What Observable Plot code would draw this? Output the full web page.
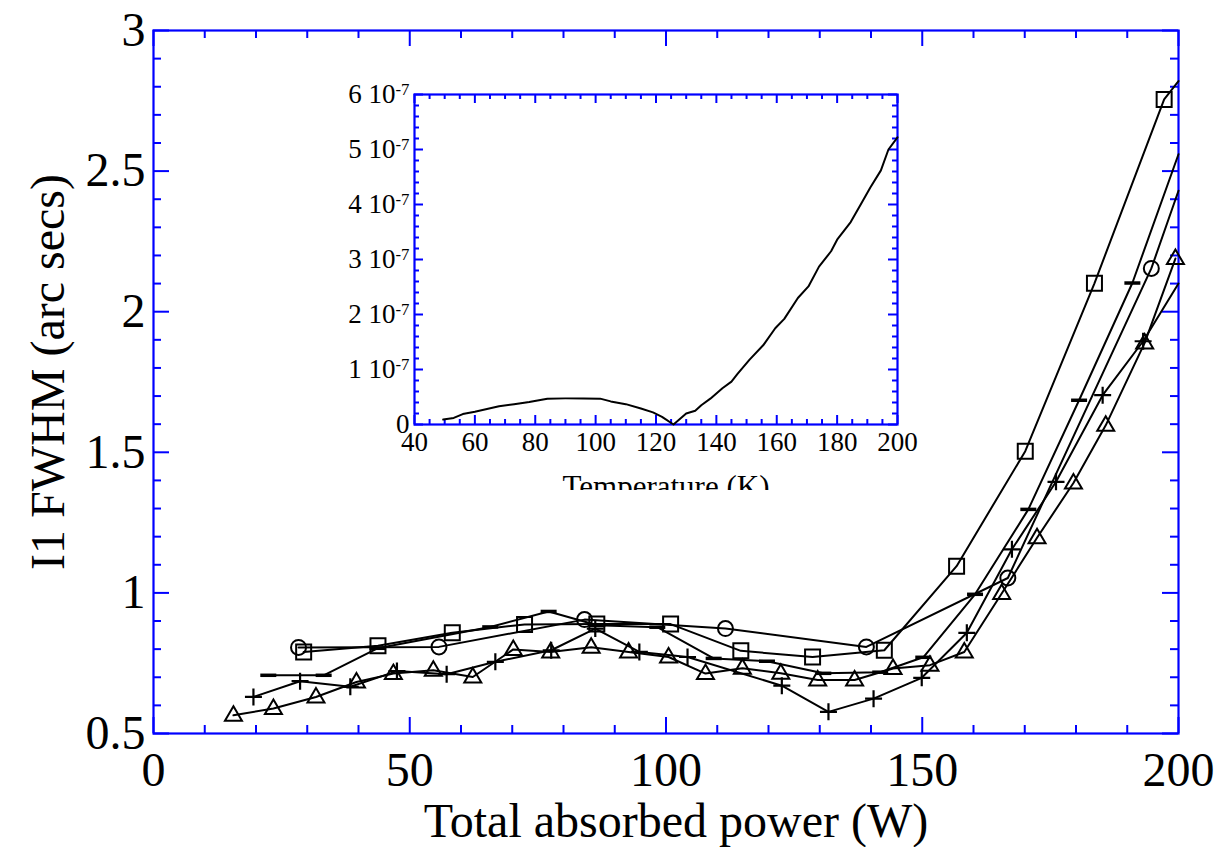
<!DOCTYPE html>
<html><head><meta charset="utf-8">
<script src="https://cdn.jsdelivr.net/npm/d3@7"></script>
<script src="https://cdn.jsdelivr.net/npm/@observablehq/plot@0.6"></script>
<style>
html,body{margin:0;padding:0;background:#fff;}
#wrap{position:relative;width:1219px;height:847px;overflow:hidden;background:#fff;}
#inset{position:absolute;left:320px;top:70px;width:600px;height:420px;overflow:hidden;}
#wrap svg, #wrap svg text, #wrap svg tspan { font-family: "Liberation Serif", "DejaVu Serif", serif !important; }
</style></head>
<body><div id="wrap"><div id="main"></div><div id="inset"></div></div>
<script>
// ---------- main chart data (Total absorbed power in W, I1 FWHM in arc secs) ----------
const powerSquare = [29.3, 43.8, 58.3, 72.4, 86.5, 100.9, 114.6, 128.6, 142.6, 156.7, 170.1, 183.6, 197.2];
const fwhmSquare  = [0.790, 0.812, 0.858, 0.888, 0.889, 0.889, 0.794, 0.772, 0.796, 1.095, 1.504, 2.101, 2.755];
const powerCircle = [28.3, 55.7, 84.1, 111.6, 139.1, 166.7, 194.7];
const fwhmCircle  = [0.806, 0.808, 0.905, 0.873, 0.808, 1.053, 2.154];
const powerDash = [22.4, 33.2, 43.7, 65.7, 77.1, 86.6, 98.3, 109.3, 119.7, 130.7, 141.8, 150.2, 160.3, 170.7, 180.6, 191.0];
const fwhmDash  = [0.707, 0.707, 0.803, 0.879, 0.934, 0.885, 0.878, 0.767, 0.757, 0.714, 0.718, 0.771, 0.995, 1.297, 1.685, 2.102];
const powerPlus = [19.5, 28.6, 38.4, 47.5, 57.2, 66.7, 77.6, 86.2, 94.8, 104.2, 122.6, 131.7, 140.5, 149.9, 158.7, 167.5, 176.1, 185.2, 193.1];
const fwhmPlus  = [0.630, 0.686, 0.666, 0.722, 0.711, 0.755, 0.796, 0.873, 0.790, 0.772, 0.670, 0.577, 0.624, 0.698, 0.858, 1.155, 1.395, 1.703, 1.895];
const powerTriangle = [15.6, 23.4, 31.7, 39.6, 46.8, 54.6, 62.3, 70.2, 77.5, 85.4, 92.7, 100.5, 107.7, 114.9, 122.4, 129.6, 136.8, 144.3, 151.5, 158.2, 165.5, 172.4, 179.5, 185.8, 193.4, 199.4];
const fwhmTriangle  = [0.565, 0.589, 0.630, 0.683, 0.713, 0.725, 0.701, 0.799, 0.790, 0.807, 0.790, 0.772, 0.713, 0.732, 0.714, 0.690, 0.690, 0.731, 0.743, 0.790, 0.998, 1.196, 1.391, 1.596, 1.889, 2.189];
// line continuation to the right edge (no marker)
const endPower = 200;
const endSquare = 2.82, endCircle = 2.43, endDash = 2.56, endPlus = 2.10;

// axis ticks
const xMajor = [0, 50, 100, 150, 200];
const xMinor = [10, 20, 30, 40, 60, 70, 80, 90, 110, 120, 130, 140, 160, 170, 180, 190];
const yMajor = [0.5, 1, 1.5, 2, 2.5, 3];
const yMinor = [0.6, 0.7, 0.8, 0.9, 1.1, 1.2, 1.3, 1.4, 1.6, 1.7, 1.8, 1.9, 2.1, 2.2, 2.3, 2.4, 2.6, 2.7, 2.8, 2.9];
const xTitle = "Total absorbed power (W)";
const yTitle = "I1 FWHM (arc secs)";

// ---------- inset data (Temperature in K, coefficient) ----------
const insetTemp = [49.5, 53, 56, 60, 64, 68, 73, 78, 84, 90, 96, 101.5, 105, 110, 115, 119, 122, 125.8,
  130, 133, 135, 138, 142, 145, 147, 151, 155.5, 159.5, 162.5, 167, 170.5, 174, 178, 180, 184.5, 188, 191, 194.5, 197, 200];
const insetValue = [0.9e-8, 1.2e-8, 1.9e-8, 2.3e-8, 2.8e-8, 3.3e-8, 3.7e-8, 4.1e-8, 4.7e-8, 4.75e-8, 4.75e-8, 4.7e-8, 4.2e-8, 3.7e-8, 2.9e-8, 2.2e-8, 1.4e-8, 0,
  2.0e-8, 2.5e-8, 3.5e-8, 4.7e-8, 6.6e-8, 7.8e-8, 9.2e-8, 1.18e-7, 1.44e-7, 1.75e-7, 1.92e-7, 2.30e-7, 2.51e-7, 2.87e-7, 3.15e-7, 3.36e-7, 3.68e-7, 4.02e-7, 4.31e-7, 4.62e-7, 5.0e-7, 5.22e-7];
const insetXMajor = [40, 60, 80, 100, 120, 140, 160, 180, 200];
const insetYMajor = [0, 1e-7, 2e-7, 3e-7, 4e-7, 5e-7, 6e-7];
const insetXTitle = "Temperature (K)";

// ---------- styling ----------
const BLUE = "#0000ff";
const FONT = "Liberation Serif, DejaVu Serif, serif";

const symSquare = {draw(c){ const s = 7.5; c.moveTo(-s,-s); c.lineTo(s,-s); c.lineTo(s,s); c.lineTo(-s,s); c.closePath(); }};
const symCircle = {draw(c){ const r = 7.5; c.moveTo(r,0); c.arc(0,0,r,0,2*Math.PI); c.closePath(); }};
const symTriangle = {draw(c){ c.moveTo(0,-9); c.lineTo(8.5,5.5); c.lineTo(-8.5,5.5); c.closePath(); }};
const symPlus = {draw(c){ const a = 8.5; c.moveTo(-a,0); c.lineTo(a,0); c.moveTo(0,-a); c.lineTo(0,a); }};
const symDash = {draw(c){ const a = 8; c.moveTo(-a,0); c.lineTo(a,0); }};

function rows(xs, ys, end) {
  const r = xs.map((x, i) => ({x, y: ys[i], marker: true}));
  if (end != null) r.push({x: endPower, y: end, marker: false});
  return r;
}
const series = [
  {data: rows(powerSquare, fwhmSquare, endSquare), symbol: symSquare, sw: 2},
  {data: rows(powerCircle, fwhmCircle, endCircle), symbol: symCircle, sw: 2},
  {data: rows(powerDash, fwhmDash, endDash), symbol: symDash, sw: 3.5},
  {data: rows(powerPlus, fwhmPlus, endPlus), symbol: symPlus, sw: 2.2},
  {data: rows(powerTriangle, fwhmTriangle, null), symbol: symTriangle, sw: 2}
];

const W = 1219, H = 847, mL = 153, mR = 41, mT = 30, mB = 114;
const PW = W - mL - mR, PH = H - mT - mB;

const dataMarks = [];
for (const s of series) {
  dataMarks.push(Plot.line(s.data, {x: "x", y: "y", stroke: "black", strokeWidth: 2}));
}
for (const s of series) {
  dataMarks.push(Plot.dot(s.data.filter(d => d.marker), {x: "x", y: "y", symbol: s.symbol, r: 6, fill: "none", stroke: "black", strokeWidth: s.sw}));
}

const main = Plot.plot({
  width: W, height: H,
  marginLeft: mL, marginRight: mR, marginTop: mT, marginBottom: mB,
  style: {fontFamily: FONT, background: "transparent", color: "black"},
  x: {domain: [0, 200]},
  y: {domain: [0.5, 3]},
  marks: [
    Plot.tickX(xMinor, {x: d => d, stroke: BLUE, strokeWidth: 2, insetTop: PH - 8}),
    Plot.tickX(xMinor, {x: d => d, stroke: BLUE, strokeWidth: 2, insetBottom: PH - 8}),
    Plot.tickX(xMajor, {x: d => d, stroke: BLUE, strokeWidth: 2, insetTop: PH - 16}),
    Plot.tickX(xMajor, {x: d => d, stroke: BLUE, strokeWidth: 2, insetBottom: PH - 16}),
    Plot.tickY(yMinor, {y: d => d, stroke: BLUE, strokeWidth: 2, insetRight: PW - 8}),
    Plot.tickY(yMinor, {y: d => d, stroke: BLUE, strokeWidth: 2, insetLeft: PW - 8}),
    Plot.tickY(yMajor, {y: d => d, stroke: BLUE, strokeWidth: 2, insetRight: PW - 16}),
    Plot.tickY(yMajor, {y: d => d, stroke: BLUE, strokeWidth: 2, insetLeft: PW - 16}),
    Plot.frame({stroke: BLUE, strokeWidth: 2.2}),
    Plot.axisX({ticks: xMajor, tickSize: 0, tickPadding: 18, fontSize: 48, fontFamily: FONT, label: null, tickFormat: d => String(d)}),
    Plot.axisY({ticks: yMajor, tickSize: 0, tickPadding: 8, fontSize: 48, fontFamily: FONT, label: null, tickFormat: d => String(d)}),
    Plot.text([xTitle], {text: d => d, frameAnchor: "bottom", dy: 88, dx: 10, fontSize: 48, fontFamily: FONT, lineAnchor: "middle", textAnchor: "middle"}),
    Plot.text([yTitle], {text: d => d, frameAnchor: "left", dx: -105, dy: -10, rotate: -90, fontSize: 48, fontFamily: FONT, lineAnchor: "middle", textAnchor: "middle"}),
    ...dataMarks
  ]
});
document.getElementById("main").appendChild(main);

// ---------- inset ----------
const IW = 600, IH = 420, imL = 94, imR = 23, imT = 24, imB = 66;
const IPW = IW - imL - imR, IPH = IH - imT - imB;
const insetXMinor = d3.range(45, 200, 5).filter(v => v % 20 !== 0);
const insetYMinor = d3.range(1, 30).map(i => i * 2e-8).filter((v, i) => (i + 1) % 5 !== 0);
const insetRows = insetTemp.map((t, i) => ({t, v: insetValue[i]}));

const inset = Plot.plot({
  width: IW, height: IH,
  marginLeft: imL, marginRight: imR, marginTop: imT, marginBottom: imB,
  style: {fontFamily: FONT, background: "transparent", color: "black", overflow: "hidden"},
  x: {domain: [40, 200]},
  y: {domain: [0, 6e-7]},
  marks: [
    Plot.tickX(insetXMinor, {x: d => d, stroke: BLUE, strokeWidth: 2, insetTop: IPH - 5}),
    Plot.tickX(insetXMinor, {x: d => d, stroke: BLUE, strokeWidth: 2, insetBottom: IPH - 5}),
    Plot.tickX(insetXMajor, {x: d => d, stroke: BLUE, strokeWidth: 2, insetTop: IPH - 9}),
    Plot.tickX(insetXMajor, {x: d => d, stroke: BLUE, strokeWidth: 2, insetBottom: IPH - 9}),
    Plot.tickY(insetYMinor, {y: d => d, stroke: BLUE, strokeWidth: 2, insetRight: IPW - 5}),
    Plot.tickY(insetYMinor, {y: d => d, stroke: BLUE, strokeWidth: 2, insetLeft: IPW - 5}),
    Plot.tickY(insetYMajor, {y: d => d, stroke: BLUE, strokeWidth: 2, insetRight: IPW - 9}),
    Plot.tickY(insetYMajor, {y: d => d, stroke: BLUE, strokeWidth: 2, insetLeft: IPW - 9}),
    Plot.frame({stroke: BLUE, strokeWidth: 2.2}),
    Plot.axisX({ticks: insetXMajor, tickSize: 0, tickPadding: 7, fontSize: 27, fontFamily: FONT, label: null, tickFormat: d => String(d)}),
    Plot.axisY({ticks: insetYMajor, tickSize: 0, tickPadding: 5, fontSize: 27, fontFamily: FONT, label: null,
      tickFormat: d => d === 0 ? "0" : `${Math.round(d / 1e-7)} 10^-7`}),
    Plot.text([insetXTitle], {text: d => d, frameAnchor: "bottom", dy: 50, dx: 10, fontSize: 31, fontFamily: FONT, lineAnchor: "top", textAnchor: "middle"}),
    Plot.line(insetRows, {x: "t", y: "v", stroke: "black", strokeWidth: 2})
  ]
});
d3.select(inset).selectAll("text").each(function() {
  const m = this.textContent.match(/^(\d) 10\^(-7)$/);
  if (m) {
    const t = d3.select(this);
    t.text(null);
    t.append("tspan").text(m[1] + " 10");
    t.append("tspan").attr("dy", "-0.5em").attr("font-size", "0.62em").text(m[2]);
  }
});
document.getElementById("inset").appendChild(inset);
</script>
</body></html>
